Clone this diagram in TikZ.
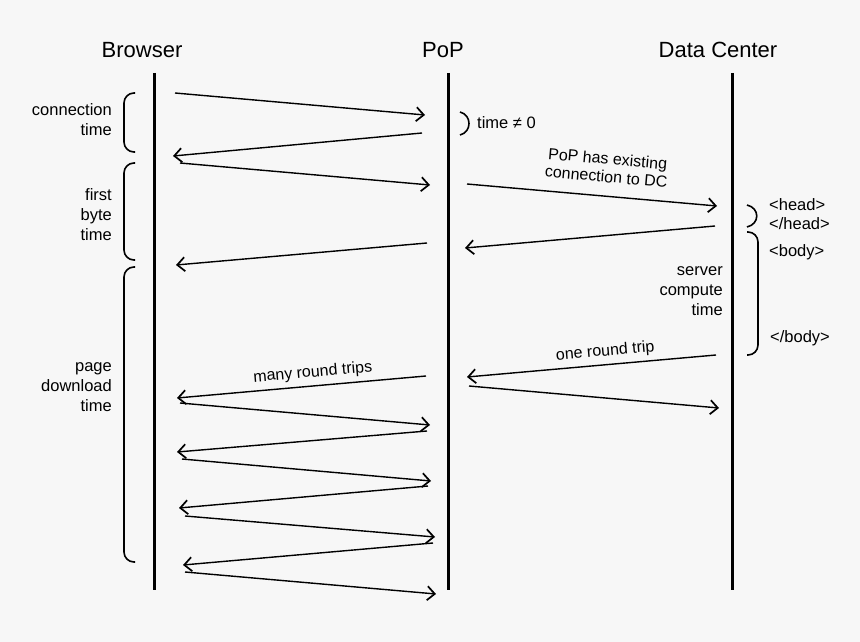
\documentclass[tikz,border=0pt]{standalone}
\usepackage{fontspec}
\setmainfont{Liberation Sans}
\usetikzlibrary{arrows.meta}
\definecolor{bgc}{HTML}{F7F7F7}
\begin{document}
\begin{tikzpicture}[x=1pt,y=-1pt,
  lifeline/.style={line width=3pt},
  msg/.style={line width=1.4pt,-{Straight Barb[length=7.5pt,width=14pt,line width=1.7pt]}},
  brk/.style={line width=1.6pt,rounded corners=10pt},
  title/.style={font=\fontsize{22}{26}\selectfont},
  lbl/.style={font=\fontsize{16.5}{20}\selectfont,align=right,anchor=east,inner sep=0pt},
  tag/.style={font=\fontsize{16.5}{20}\selectfont,anchor=west,inner sep=0pt},
  slab/.style={font=\fontsize{16}{18}\selectfont,align=center,sloped,inner sep=0pt}]
\fill[bgc] (0,0) rectangle (860,642);
\useasboundingbox (0,0) rectangle (860,642);

% titles
\node[title] (tb) at (142,50) {Browser};
\node[title] (tp) at (443,50) {PoP};
\node[title] (td) at (718,50) {Data Center};

% lifelines
\coordinate (bt) at (154,73); \coordinate (bb) at (154,590);
\coordinate (pt) at (448,73); \coordinate (pb) at (448,590);
\coordinate (dt) at (732,73); \coordinate (db) at (732,590);
\draw[lifeline] (bt) -- (bb);
\draw[lifeline] (pt) -- (pb);
\draw[lifeline] (dt) -- (db);

% browser <-> PoP
\coordinate (m1s) at (175,93);  \coordinate (m1e) at (425,115);
\coordinate (m2s) at (422,133); \coordinate (m2e) at (173,156);
\coordinate (m3s) at (180,163); \coordinate (m3e) at (430,185);
\coordinate (m4s) at (427,243); \coordinate (m4e) at (176,265);
\draw[msg] (m1s) -- (m1e);
\draw[msg] (m2s) -- (m2e);
\draw[msg] (m3s) -- (m3e);
\draw[msg] (m4s) -- (m4e);

% PoP <-> DC
\coordinate (d1s) at (467,184); \coordinate (d1e) at (717,206);
\coordinate (d2s) at (715,226); \coordinate (d2e) at (465,248);
\coordinate (d3s) at (716,355); \coordinate (d3e) at (467,377);
\coordinate (d4s) at (469,386); \coordinate (d4e) at (719,408);
\draw[msg] (d1s) -- node[slab,pos=0.55,above=13pt] (lexist) {PoP has existing\\connection to DC} (d1e);
\draw[msg] (d2s) -- (d2e);
\draw[msg] (d3s) -- node[slab,pos=0.44,above=5pt] (lone) {one round trip} (d3e);
\draw[msg] (d4s) -- (d4e);

% many round trips
\coordinate (r1s) at (426,376); \coordinate (r1e) at (177,398);
\coordinate (r2s) at (180,403); \coordinate (r2e) at (430,425);
\coordinate (r3s) at (427,431); \coordinate (r3e) at (177,452);
\coordinate (r4s) at (182,459); \coordinate (r4e) at (431,481);
\coordinate (r5s) at (428,486); \coordinate (r5e) at (179,508);
\coordinate (r6s) at (185,516); \coordinate (r6e) at (435,537);
\coordinate (r7s) at (433,543); \coordinate (r7e) at (183,565);
\coordinate (r8s) at (185,572); \coordinate (r8e) at (436,594);
\draw[msg] (r1s) -- node[slab,pos=0.45,above=5pt] (lmany) {many round trips} (r1e);
\draw[msg] (r2s) -- (r2e);
\draw[msg] (r3s) -- (r3e);
\draw[msg] (r4s) -- (r4e);
\draw[msg] (r5s) -- (r5e);
\draw[msg] (r6s) -- (r6e);
\draw[msg] (r7s) -- (r7e);
\draw[msg] (r8s) -- (r8e);

% left brackets
\draw[brk] (135,93) -- (124,93) -- (124,152) -- (135,152);
\draw[brk] (135,163) -- (124,163) -- (124,260) -- (135,260);
\draw[brk] (135,267) -- (124,267) -- (124,562) -- (135,562);
\node[lbl] (lconn) at (112,120) {connection\\time};
\node[lbl] (lfirst) at (112,215) {first\\byte\\time};
\node[lbl] (lpage) at (112,387) {page\\download\\time};

% PoP small bracket
\draw[line width=1.6pt] (460,112) .. controls (472,115) and (472,132) .. (460,135);
\node[tag] (ltime) at (477,123) {time ≠ 0};

% DC brackets
\draw[line width=1.6pt] (747,205) .. controls (760,208) and (760,224) .. (747,227);
\draw[brk] (747,232) -- (758,232) -- (758,355) -- (747,355);
\node[tag] (lh1) at (769,205) {<head>};
\node[tag] (lh2) at (769,224) {</head>};
\node[tag] (lb1) at (769,252) {<body>};
\node[tag] (lb2) at (770,338) {</body>};
\node[lbl] (lserver) at (723,291) {server\\compute\\time};
\end{tikzpicture}
\end{document}
